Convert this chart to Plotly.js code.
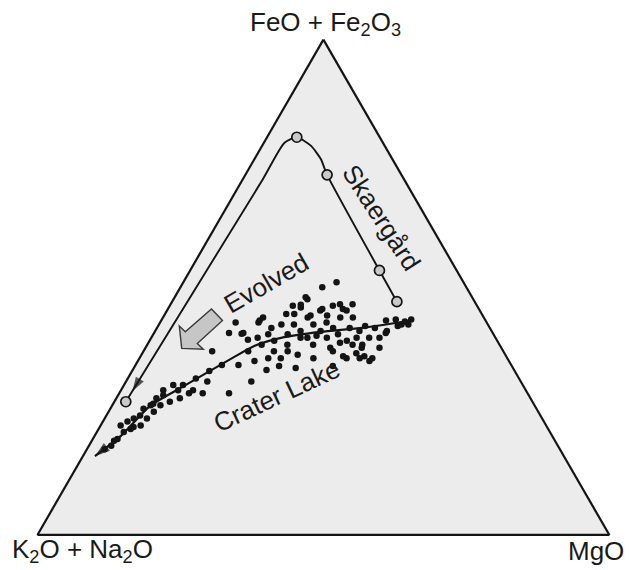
<!DOCTYPE html>
<html>
<head>
<meta charset="utf-8">
<script src="https://cdn.plot.ly/plotly-3.0.1.min.js"></script>
<style>
  html, body { margin: 0; padding: 0; background: #fff; }
  #chart { width: 629px; height: 570px; }
</style>
</head>
<body>
<div id="chart"></div>
<script>
// AFM diagram: FeO+Fe2O3 (A apex), K2O+Na2O (B apex), MgO (C apex), wt% normalised to 100

// Skaergård differentiation trend (smoothed path)
const skFeO = [47.1, 53.4, 72.7, 75.9, 78.6, 80.3, 79.2, 71.4, 26.9];
const skAlk = [13.6, 13.5, 13.0, 12.5, 12.9, 14.5, 17.2, 25.1, 71.1];
const skMgO = [39.3, 33.1, 14.3, 11.6, 8.5, 5.2, 3.6, 3.5, 2.0];

// Skaergård sample compositions (open circles)
const skPtFeO = [47.1, 53.4, 72.7, 80.3, 26.9];
const skPtAlk = [13.6, 13.5, 13.0, 14.5, 71.1];
const skPtMgO = [39.3, 33.1, 14.3, 5.2, 2.0];

// Arrow on the Skaergård path (from a point on the path to the arrow tip)
const skArrowFeO = [71.4, 29.0];
const skArrowAlk = [25.1, 68.9];
const skArrowMgO = [3.5, 2.1];

// Crater Lake trend line, ending at the arrow tip
const clTrendFeO = [43.3, 41.8, 41.0, 39.8, 38.2, 35.7, 30.0, 26.1, 20.0, 15.9];
const clTrendAlk = [12.9, 22.3, 30.0, 37.5, 42.9, 48.1, 59.5, 67.2, 75.4, 82.0];
const clTrendMgO = [43.8, 35.9, 29.0, 22.7, 18.9, 16.2, 10.5, 6.7, 4.6, 2.1];

// Crater Lake volcanic rock analyses
const clFeO = [51.0, 50.0, 47.6, 43.9, 42.9, 40.8, 40.6, 37.1, 31.0, 28.6, 28.6, 29.2, 27.6, 29.2,
  33.7, 34.1, 33.3, 35.1, 35.7, 35.7, 43.5, 40.8, 35.1, 37.8, 35.7, 35.7, 37.1, 35.7, 36.4, 38.4,
  38.4, 39.8, 41.8, 45.3, 43.9, 41.2, 39.8, 45.3, 43.9, 44.6, 42.5, 40.5, 38.4, 39.2, 41.2, 40.5,
  43.9, 42.5, 42.5, 37.1, 37.1, 39.8, 37.8, 38.4, 38.4, 35.7, 39.2, 40.5, 41.2, 45.9, 46.6, 46.6,
  42.9, 37.1, 34.3, 34.3, 33.1, 31.6, 30.3, 30.3, 28.2, 27.6, 26.2, 24.9, 25.5, 24.1, 23.5, 22.9,
  21.4, 20.8, 22.1, 22.1, 23.5, 26.2, 26.9, 19.4, 19.0, 18.0, 42.5, 42.5, 43.5, 43.3, 46.3, 46.5,
  48.0, 43.3, 44.6, 40.8, 44.3, 45.6, 44.3, 46.3, 45.6, 41.2, 36.1, 36.7, 36.1, 34.1, 39.8, 41.8,
  42.2, 41.8, 38.8, 41.8, 39.8, 39.4, 42.9, 40.2, 39.8, 39.8, 37.8, 21.8, 17.3, 26.5, 29.2, 28.6,
  31.0, 43.1, 42.2];
const clAlk = [22.2, 25.2, 29.0, 38.6, 43.9, 46.1, 44.0, 50.9, 47.1, 52.2, 56.8, 58.2, 61.3, 63.4,
  38.0, 40.7, 43.3, 44.5, 41.8, 39.6, 15.6, 18.7, 24.4, 21.3, 25.8, 28.1, 29.8, 33.9, 36.3, 37.1,
  32.6, 29.5, 27.4, 23.3, 22.9, 23.1, 22.1, 27.9, 30.8, 32.8, 36.1, 39.4, 41.6, 39.0, 33.4, 36.0,
  25.1, 30.5, 33.9, 40.1, 37.7, 32.9, 29.9, 25.7, 24.0, 23.6, 26.3, 27.2, 29.9, 31.0, 23.8, 21.6,
  39.9, 44.6, 47.7, 50.6, 53.4, 56.5, 59.4, 61.1, 63.9, 65.4, 67.1, 67.2, 68.7, 70.0, 71.4, 72.8,
  73.0, 74.5, 74.4, 70.9, 69.1, 65.4, 63.4, 76.3, 77.1, 78.1, 15.1, 13.9, 12.9, 17.4, 32.2, 30.7,
  29.1, 39.5, 34.2, 43.6, 30.1, 27.4, 27.2, 25.2, 23.8, 18.3, 24.8, 25.9, 28.5, 31.3, 34.1, 24.5,
  21.6, 20.1, 27.7, 38.2, 41.6, 43.5, 28.0, 31.1, 24.3, 20.3, 24.4, 72.3, 79.6, 66.5, 60.8, 59.2,
  54.8, 14.2, 15.9];
const clMgO = [26.8, 24.8, 23.4, 17.5, 13.2, 13.1, 15.4, 12.0, 21.9, 19.2, 14.6, 12.6, 11.1, 7.4,
  28.3, 25.2, 23.4, 20.4, 22.5, 24.7, 40.9, 40.5, 40.5, 40.9, 38.5, 36.2, 33.1, 30.4, 27.3, 24.5,
  29.0, 30.7, 30.8, 31.4, 33.2, 35.7, 38.1, 26.8, 25.3, 22.6, 21.4, 20.1, 20.0, 21.8, 25.4, 23.5,
  31.0, 27.0, 23.6, 22.8, 25.2, 27.3, 32.3, 35.9, 37.6, 40.7, 34.5, 32.3, 28.9, 23.1, 29.6, 31.8,
  17.2, 18.3, 18.0, 15.1, 13.5, 11.9, 10.3, 8.6, 7.9, 7.0, 6.7, 7.9, 5.8, 5.9, 5.1, 4.3,
  5.6, 4.7, 3.5, 7.0, 7.4, 8.4, 9.7, 4.3, 3.9, 3.9, 42.4, 43.6, 43.6, 39.3, 21.5, 22.8,
  22.9, 17.2, 21.2, 15.6, 25.6, 27.0, 28.5, 28.5, 30.6, 40.5, 39.1, 37.4, 35.4, 34.6, 26.1, 33.7,
  36.2, 38.1, 33.5, 20.0, 18.6, 17.1, 29.1, 28.7, 35.9, 39.9, 37.8, 5.9, 3.1, 7.0, 10.0, 12.2,
  14.2, 42.7, 41.9];

const ink = '#141414';

const traces = [
  {
    type: 'scatterternary', mode: 'lines',
    a: skFeO, b: skAlk, c: skMgO,
    line: { color: ink, width: 1.9, shape: 'spline', smoothing: 0.6 },
    hoverinfo: 'skip'
  },
  {
    type: 'scatterternary', mode: 'markers',
    a: skArrowFeO, b: skArrowAlk, c: skArrowMgO,
    marker: { symbol: 'arrow', size: [0, 15], angleref: 'previous', color: ink, line: { width: 0 } },
    hoverinfo: 'skip'
  },
  {
    type: 'scatterternary', mode: 'markers',
    a: skPtFeO, b: skPtAlk, c: skPtMgO,
    marker: { symbol: 'circle', size: 10, color: '#c9c9c9', line: { color: ink, width: 1.7 } },
    hoverinfo: 'skip'
  },
  {
    type: 'scatterternary', mode: 'markers',
    a: clFeO, b: clAlk, c: clMgO,
    marker: { symbol: 'circle', size: 6.5, color: ink, line: { width: 0 } },
    hoverinfo: 'skip'
  },
  {
    type: 'scatterternary', mode: 'lines+markers',
    a: clTrendFeO, b: clTrendAlk, c: clTrendMgO,
    line: { color: ink, width: 2.2, shape: 'spline', smoothing: 0.6 },
    marker: {
      symbol: 'arrow', angleref: 'previous', color: ink, line: { width: 0 },
      size: clTrendFeO.map((v, i) => (i === clTrendFeO.length - 1 ? 16 : 0))
    },
    hoverinfo: 'skip'
  }
];

// apex labels are drawn as annotations below, so the built-in axis titles stay blank
const axisStyle = {
  title: { text: '' },
  showgrid: false,
  showticklabels: false,
  ticks: '',
  showline: true,
  linecolor: ink,
  linewidth: 2.2
};

const labelFont = { family: 'Liberation Sans, Arial, sans-serif', size: 26, color: '#1a1a1a' };
const innerFont = { family: 'Liberation Sans, Arial, sans-serif', size: 26, color: '#1a1a1a' };

const layout = {
  width: 629,
  height: 570,
  margin: { l: 0, r: 0, t: 0, b: 0 },
  paper_bgcolor: '#ffffff',
  showlegend: false,
  hovermode: false,
  ternary: {
    sum: 100,
    domain: { x: [0.0595, 0.9688], y: [0.0614, 0.9305] },
    bgcolor: '#ececec',
    aaxis: axisStyle,
    baxis: axisStyle,
    caxis: axisStyle
  },
  shapes: [
    {
      // broad "Evolved" direction arrow
      type: 'path', xref: 'paper', yref: 'paper',
      path: 'M0.2889,0.3889 L0.2851,0.4281 L0.2946,0.4179 L0.3362,0.4579 L0.3537,0.4377 L0.3137,0.3974 L0.3232,0.3872 Z',
      fillcolor: '#c6c6c6',
      line: { color: '#3a3a3a', width: 1.4 }
    }
  ],
  annotations: [
    { text: 'FeO + Fe<sub>2</sub>O<sub>3</sub>', xref: 'paper', yref: 'paper', x: 0.517, y: 0.958,
      xanchor: 'center', yanchor: 'middle', showarrow: false, font: labelFont },
    { text: 'K<sub>2</sub>O + Na<sub>2</sub>O', xref: 'paper', yref: 'paper', x: 0.016, y: 0.034,
      xanchor: 'left', yanchor: 'middle', showarrow: false, font: labelFont },
    { text: 'MgO', xref: 'paper', yref: 'paper', x: 0.995, y: 0.034,
      xanchor: 'right', yanchor: 'middle', showarrow: false, font: labelFont },
    { text: 'Skaergård', xref: 'paper', yref: 'paper', x: 0.6065, y: 0.617,
      xanchor: 'center', yanchor: 'middle', showarrow: false, textangle: 57, font: innerFont },
    { text: 'Evolved', xref: 'paper', yref: 'paper', x: 0.4237, y: 0.5035,
      xanchor: 'center', yanchor: 'middle', showarrow: false, textangle: -30, font: innerFont },
    { text: 'Crater Lake', xref: 'paper', yref: 'paper', x: 0.4396, y: 0.3044,
      xanchor: 'center', yanchor: 'middle', showarrow: false, textangle: -25, font: innerFont }
  ]
};

Plotly.newPlot('chart', traces, layout, { staticPlot: true, displayModeBar: false });
</script>
</body>
</html>
